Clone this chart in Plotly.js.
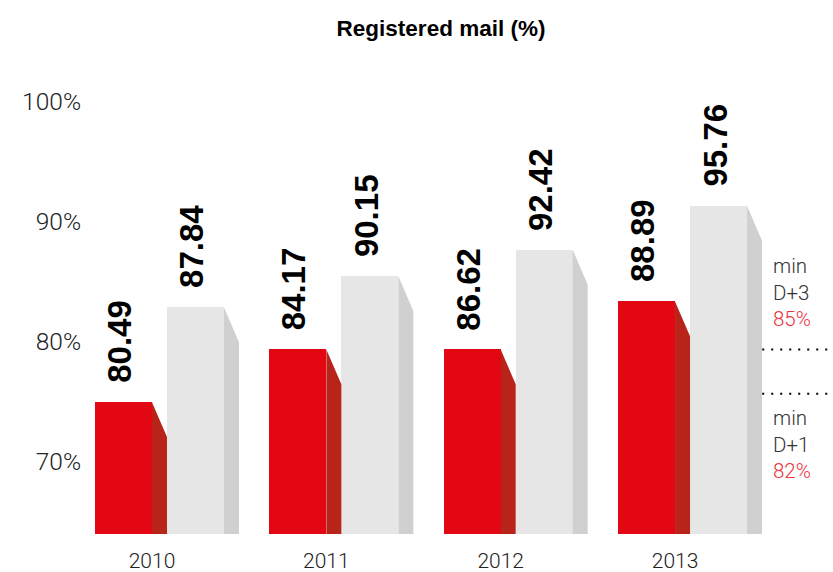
<!DOCTYPE html>
<html>
<head>
<meta charset="utf-8">
<script src="https://cdn.plot.ly/plotly-3.0.1.min.js"></script>
<style>html,body{margin:0;padding:0;background:#fff;}#chart{width:833px;height:572px;}</style>
</head>
<body>
<div id="chart"></div>
<script>
// ---- data ----
const years = ['2010', '2011', '2012', '2013'];
// D+1 (red) and D+3 (grey) published results
const d1Labels = ['80.49', '84.17', '86.62', '88.89'];
const d3Labels = ['87.84', '90.15', '92.42', '95.76'];
// bar heights as drawn in the picture (axis units, %)
const d1Heights = [74.9, 79.3, 79.3, 83.3];
const d3Heights = [82.8, 85.4, 87.6, 91.25];
const yTicks = [70, 80, 90, 100];
const yTickText = ['70%', '80%', '90%', '100%'];
const minLabels = [
  {line1: 'min', line2: 'D+3', pct: '85%', lineY: 79.3, textY: 84.05},
  {line1: 'min', line2: 'D+1', pct: '82%', lineY: 75.6, textY: 71.4}
];

// ---- geometry/style ----
const FACE = 0.327, SIDE = 0.086, DROP = 2.9;
const RED = '#e30613', RED_SIDE = '#b8241a', GREY = '#e6e6e6', GREY_SIDE = '#d0d0d0';
const xIdx = years.map((_, i) => i);

function sidePolys(heights, x0off) {
  const xs = [], ys = [];
  heights.forEach((h, i) => {
    const a = i + x0off, b = a + SIDE;
    xs.push(a, b, b, a, a, null);
    ys.push(h, h - DROP, 0, 0, h, null);
  });
  return {xs, ys};
}
const rs = sidePolys(d1Heights, 0);
const gs = sidePolys(d3Heights, FACE + SIDE);

const traces = [
  {type: 'bar', x: xIdx, y: d1Heights, offset: -FACE, width: FACE,
   marker: {color: RED, line: {width: 0}}, hoverinfo: 'skip', showlegend: false},
  {type: 'bar', x: xIdx, y: d3Heights, offset: SIDE, width: FACE,
   marker: {color: GREY, line: {width: 0}}, hoverinfo: 'skip', showlegend: false},
  {type: 'scatter', mode: 'lines', x: rs.xs, y: rs.ys, fill: 'toself', fillcolor: RED_SIDE,
   line: {width: 0, color: RED_SIDE}, hoverinfo: 'skip', showlegend: false},
  {type: 'scatter', mode: 'lines', x: gs.xs, y: gs.ys, fill: 'toself', fillcolor: GREY_SIDE,
   line: {width: 0, color: GREY_SIDE}, hoverinfo: 'skip', showlegend: false}
];

const numFont = {family: 'Liberation Sans, Arial, sans-serif', size: 33, color: '#000', weight: 700};
const annotations = [];
years.forEach((y, i) => {
  annotations.push({x: i - FACE / 2 - 0.02, y: d1Heights[i], xref: 'x', yref: 'y',
    text: d1Labels[i], textangle: -90, showarrow: false, xanchor: 'center', yanchor: 'bottom',
    yshift: 17, font: numFont});
  annotations.push({x: i + SIDE + FACE / 2 - 0.02, y: d3Heights[i], xref: 'x', yref: 'y',
    text: d3Labels[i], textangle: -90, showarrow: false, xanchor: 'center', yanchor: 'bottom',
    yshift: 17, font: numFont});
});
const sideFont = {family: 'Roboto, Liberation Sans, sans-serif', size: 20.5, color: '#333', weight: 300};
minLabels.forEach(m => {
  annotations.push({x: 3.553, y: m.textY, xref: 'x', yref: 'y', xanchor: 'left', yanchor: 'middle',
    align: 'left', showarrow: false, font: sideFont,
    text: m.line1 + '<br>' + m.line2 + '<br><span style="color:#e8343d">' + m.pct + '</span>'});
});

const shapes = minLabels.map(m => ({type: 'line', xref: 'x', yref: 'y', x0: 3.5, x1: 3.91,
  y0: m.lineY, y1: m.lineY, line: {color: '#000', width: 2, dash: '2px,7px'}}));

const layout = {
  width: 833, height: 572,
  margin: {l: 86, r: 0, t: 60, b: 38},
  paper_bgcolor: '#fff', plot_bgcolor: '#fff',
  title: {text: 'Registered mail (%)', x: 441 / 833, xanchor: 'center', xref: 'container',
    y: 1 - 28 / 572, yref: 'container', yanchor: 'middle',
    font: {family: 'Liberation Sans, Arial, sans-serif', size: 22.5, color: '#000', weight: 700}},
  xaxis: {range: [-0.3786, 3.906], tickvals: xIdx, ticktext: years, showgrid: false,
    zeroline: false, showline: false, ticks: '', ticklabelstandoff: 12,
    tickfont: {family: 'Roboto, Liberation Sans, sans-serif', size: 21, color: '#222', weight: 300}},
  yaxis: {range: [63.92, 103.42], tickvals: yTicks, ticktext: yTickText, showgrid: false,
    zeroline: false, showline: false, ticks: '', ticklabelstandoff: 4,
    tickfont: {family: 'Roboto, Liberation Sans, sans-serif', size: 24.5, color: '#222', weight: 300}},
  barmode: 'overlay', bargap: 0,
  annotations, shapes
};

Plotly.newPlot('chart', traces, layout, {staticPlot: true, displayModeBar: false});
</script>
</body>
</html>
